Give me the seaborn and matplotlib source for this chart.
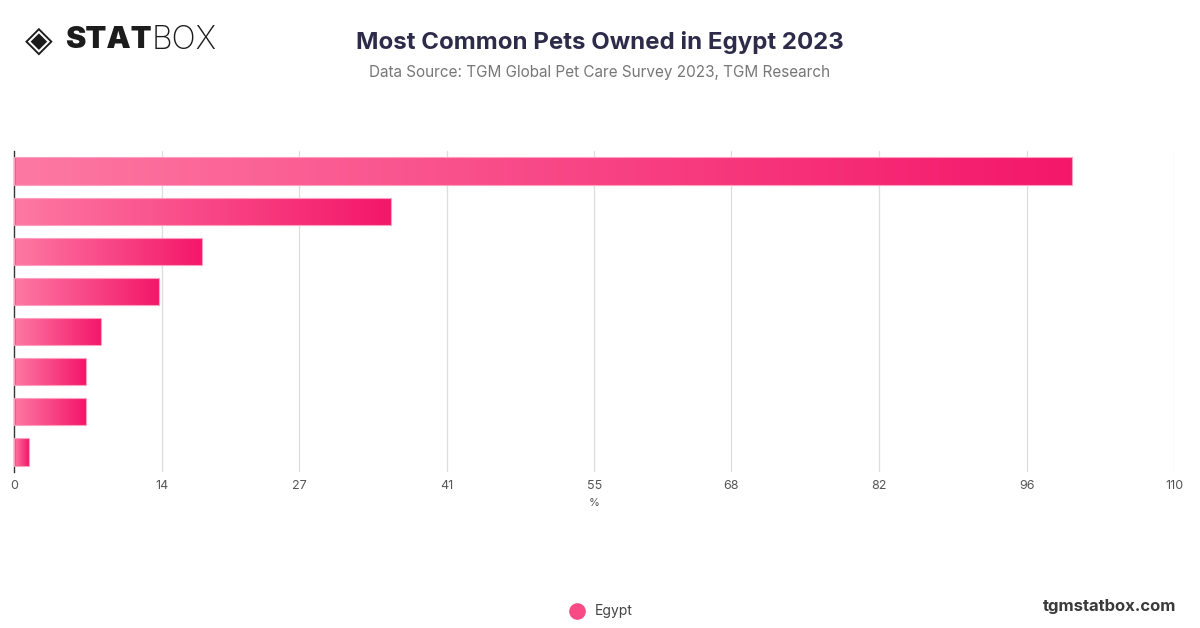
import numpy as np
import pandas as pd
import matplotlib
matplotlib.use("Agg")
import matplotlib.pyplot as plt
from matplotlib.colors import LinearSegmentedColormap
import seaborn as sns

# Values (category labels are hidden in the original)
pets = ["Cat", "Dog", "Bird", "Fish", "Rabbit", "Turtle", "Hamster", "Other"]
share = [100.3, 35.7, 17.8, 13.7, 8.2, 6.8, 6.8, 1.4]
ticks = [0, 14, 27, 41, 55, 68, 82, 96, 110]
series = "Egypt"

df = pd.DataFrame({"pet": pets, "share": share})

sns.set_theme(style="white")
plt.rcParams["font.family"] = ["Inter", "DejaVu Sans"]

fig = plt.figure(figsize=(12, 6.28), dpi=100)
ax = fig.add_axes([0.0119, 0.2484, 0.9667, 0.5112])

sns.barplot(data=df, y="pet", x="share", orient="h", color="#f5176a",
            width=0.68, ax=ax)

# gradient fill for each bar
grad = LinearSegmentedColormap.from_list("pink", ["#fd79a3", "#f4176a"])
ramp = np.linspace(0, 1, 256).reshape(1, -1)
for p in ax.patches:
    x0, y0 = p.get_x(), p.get_y()
    w, h = p.get_width(), p.get_height()
    p.set_facecolor("none")
    p.set_edgecolor("#ff9fc0")
    p.set_linewidth(0.8)
    im = ax.imshow(ramp, cmap=grad, aspect="auto",
                   extent=[x0, x0 + w, y0 + h, y0], zorder=2)
    im.set_clip_path(p)
    p.set_zorder(3)

ax.set_xlim(0, 110)
ax.set_ylim(len(pets) - 0.5, -0.5)
ax.set_xticks(ticks)
ax.set_xticklabels([str(t) for t in ticks], fontsize=9, color="#555555")
ax.tick_params(axis="x", length=0, pad=6)
ax.set_yticks([])
ax.set_ylabel("")
ax.set_xlabel("%", fontsize=8, color="#555555", labelpad=4)

for t in ticks[1:]:
    ax.axvline(t, color="#dddddd", lw=0.9, zorder=0)

for s in ["top", "right", "bottom"]:
    ax.spines[s].set_visible(False)
ax.spines["left"].set_color("#333333")
ax.spines["left"].set_linewidth(1.0)

# titles
fig.text(0.5, 0.933, "Most Common Pets Owned in Egypt 2023", ha="center",
         va="center", fontsize=17.3, fontweight="bold", color="#2e2b4a")
fig.text(0.5, 0.885, "Data Source: TGM Global Pet Care Survey 2023, TGM Research",
         ha="center", va="center", fontsize=11, color="#777777")

# logo
fig.text(0.021, 0.936, "\u25c8", ha="left", va="center", fontsize=26,
         color="#1c1c1c", family=["DejaVu Sans"])
fig.text(0.054, 0.936, "STAT", ha="left", va="center", fontsize=22,
         fontweight="black", color="#1c1c1c")
fig.text(0.1265, 0.936, "BOX", ha="left", va="center", fontsize=23,
         fontweight="light", color="#1c1c1c")

# legend + site
ax_leg = fig.add_axes([0, 0, 1, 1], facecolor="none")
ax_leg.set_xlim(0, 1200)
ax_leg.set_ylim(628, 0)
ax_leg.axis("off")
ax_leg.scatter([577], [611], s=120, color="#f84a85", zorder=3)
ax_leg.text(595, 611, series, ha="left", va="center", fontsize=10,
            color="#444444")
ax_leg.text(1176, 606, "tgmstatbox.com", ha="right", va="center",
            fontsize=12, fontweight="bold", color="#3a3a3a")

fig.savefig("out.png", dpi=100)
